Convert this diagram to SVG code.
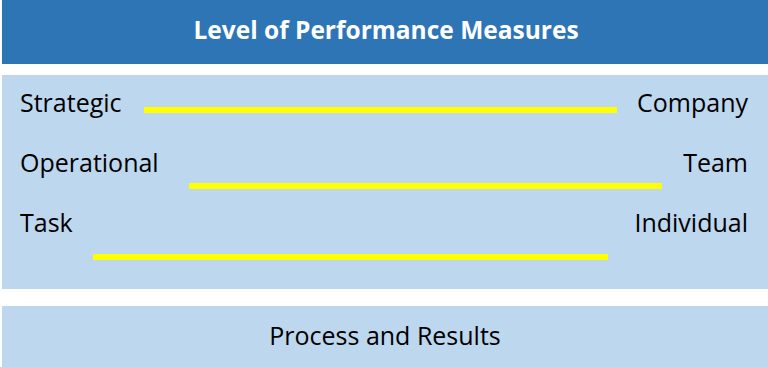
<svg xmlns="http://www.w3.org/2000/svg" width="768" height="367" viewBox="0 0 768 367">
  <style>
    .band { fill: #BDD7EE; }
    .head { fill: #2E75B6; }
    .lbl { font-family: "Open Sans", "Liberation Sans", sans-serif; font-size: 25px; fill: #000; }
    .title { font-family: "Open Sans", "Liberation Sans", sans-serif; font-size: 24.5px; font-weight: bold; fill: #fff; }
    .bar { stroke: #FFFF00; stroke-width: 6; }
  </style>
  <rect width="768" height="367" fill="#fff"/>

  <g id="header">
    <rect class="head" x="2" y="0" width="766" height="64"/>
    <text class="title" x="386" y="39" text-anchor="middle">Level of Performance Measures</text>
  </g>

  <g id="levels">
    <rect class="band" x="2" y="75" width="766" height="214"/>
    <text class="lbl" x="20" y="112">Strategic</text>
    <text class="lbl" x="748" y="112" text-anchor="end">Company</text>
    <text class="lbl" x="20" y="172">Operational</text>
    <text class="lbl" x="748" y="172" text-anchor="end">Team</text>
    <text class="lbl" x="20" y="232">Task</text>
    <text class="lbl" x="748" y="232" text-anchor="end">Individual</text>
  </g>

  <g id="connectors">
    <line class="bar" x1="144" y1="110" x2="617" y2="110"/>
    <line class="bar" x1="189" y1="186" x2="662" y2="186"/>
    <line class="bar" x1="93" y1="257" x2="608" y2="257"/>
  </g>

  <g id="footer">
    <rect class="band" x="2" y="306" width="766" height="61"/>
    <text class="lbl" x="385" y="345" text-anchor="middle">Process and Results</text>
  </g>
</svg>
